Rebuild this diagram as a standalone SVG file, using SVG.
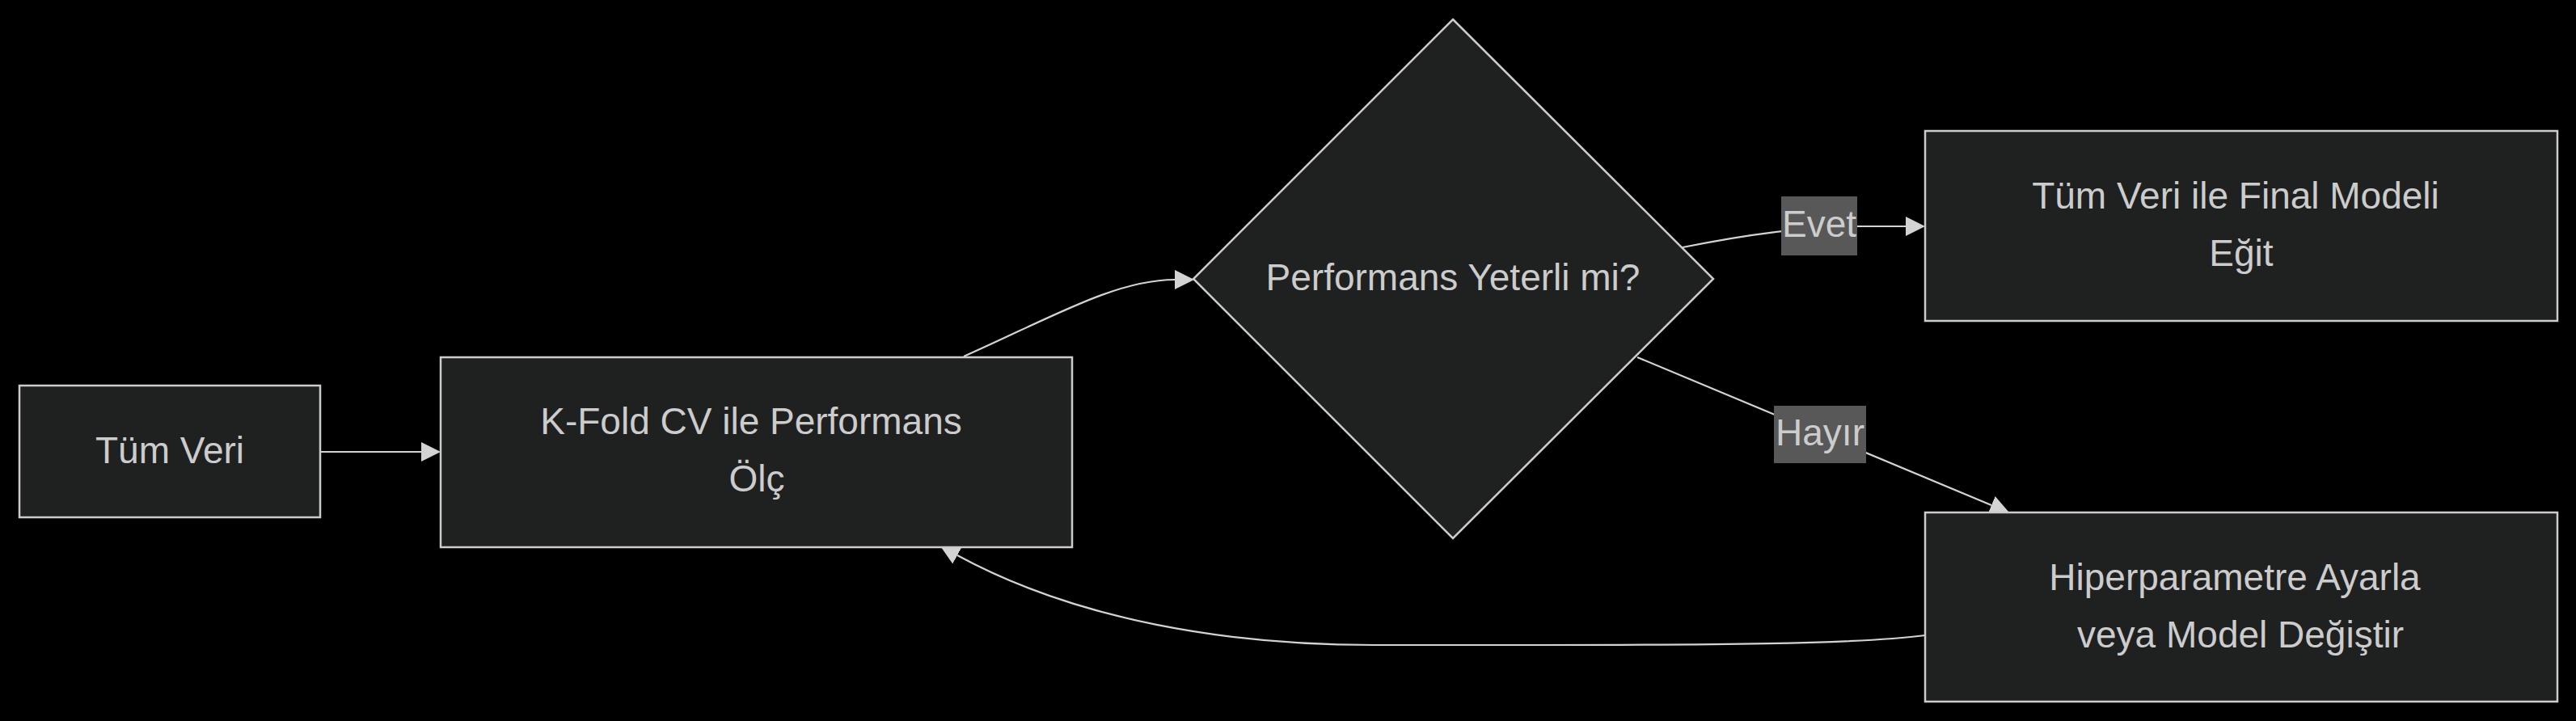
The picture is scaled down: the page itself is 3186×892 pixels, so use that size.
<svg xmlns="http://www.w3.org/2000/svg" width="3186" height="892" viewBox="0 0 3186 892">
<style>
.node{fill:#1f2020;stroke:#cccccc;stroke-width:2.5}
.lbl{font-family:"Liberation Sans",Arial,sans-serif;font-size:46px;fill:#cccccc;text-anchor:middle}
.edge{fill:none;stroke:#d3d3d3;stroke-width:2.2}
.ebg{fill:#585858}
</style>
<defs>
<marker id="arrow" viewBox="0 0 10 10" refX="0" refY="5" markerUnits="userSpaceOnUse" markerWidth="24" markerHeight="24" orient="auto">
<path d="M0,0 L10,5 L0,10 z" fill="#d3d3d3"/>
</marker>
</defs>
<rect x="0" y="0" width="3186" height="892" fill="#000000"/>
<g id="connectors">
<path class="edge" d="M396,559 L521,559" marker-end="url(#arrow)"/>
<path class="edge" d="M1192,441 C1300,393 1380,346 1453,346" marker-end="url(#arrow)"/>
<path class="edge" d="M2081,306 C2150,292 2220,281 2290,280 L2357,280" marker-end="url(#arrow)"/>
<path class="edge" d="M2025,442 L2463,625" marker-end="url(#arrow)"/>
<path class="edge" d="M2381,786 C2300,797 2100,798 1900,798 L1700,798 C1520,798 1333,768 1184,687" marker-end="url(#arrow)"/>
<g id="label-evet">
<rect class="ebg" x="2203" y="243" width="94" height="73"/>
<text class="lbl" x="2250" y="293">Evet</text>
</g>
<g id="label-hayir">
<rect class="ebg" x="2194" y="502" width="114" height="71"/>
<text class="lbl" x="2251" y="551">Hayır</text>
</g>
</g>
<g id="node-tumveri">
<rect class="node" x="24" y="477" width="372" height="163"/>
<text class="lbl" x="210" y="573">Tüm Veri</text>
</g>
<g id="node-kfold">
<rect class="node" x="545" y="442" width="781" height="235"/>
<text class="lbl" x="929" y="537">K-Fold CV ile Performans</text>
<text class="lbl" x="936" y="608">Ölç</text>
</g>
<g id="node-karar">
<polygon class="node" points="1797,24 2119,345 1797,666 1476,345"/>
<text class="lbl" x="1797" y="359">Performans Yeterli mi?</text>
</g>
<g id="node-final">
<rect class="node" x="2381" y="162" width="782" height="235"/>
<text class="lbl" x="2765" y="258">Tüm Veri ile Final Modeli</text>
<text class="lbl" x="2772" y="329">Eğit</text>
</g>
<g id="node-ayar">
<rect class="node" x="2381" y="634" width="782" height="234"/>
<text class="lbl" x="2764" y="730">Hiperparametre Ayarla</text>
<text class="lbl" x="2771" y="801">veya Model Değiştir</text>
</g>
</svg>
